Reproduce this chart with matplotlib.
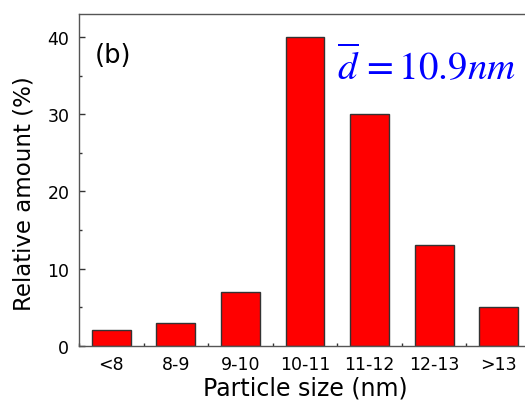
import matplotlib
matplotlib.use('Agg')
import matplotlib.pyplot as plt
import numpy as np
from matplotlib.ticker import MultipleLocator

# Particle size distribution (b)
sizes = ['<8', '8-9', '9-10', '10-11', '11-12', '12-13', '>13']
amount = [2, 3, 7, 40, 30, 13, 5]

plt.rcParams['font.family'] = ['DejaVu Sans']
plt.rcParams['mathtext.fontset'] = 'stix'

fig = plt.figure(figsize=(5.25, 4.06), dpi=100)
ax = fig.add_axes([79 / 525, 59.3 / 406, 452 / 525, 331.7 / 406])

x = np.arange(len(sizes))
ax.bar(x, amount, width=0.6, color='#ff0000', edgecolor='#333333', linewidth=1.0, zorder=2)

ax.set_xlim(-0.5, 6.5)
ax.set_ylim(0, 43)
ax.set_xticks(x)
ax.set_xticklabels(sizes)
ax.xaxis.set_minor_locator(MultipleLocator(1, offset=0.5))
ax.yaxis.set_major_locator(MultipleLocator(10))
ax.yaxis.set_minor_locator(MultipleLocator(5))
ax.tick_params(which='both', direction='in', labelsize=12.5, color='#333333', top=False, right=False)
ax.tick_params(which='major', length=4.5, width=1.0)
ax.tick_params(axis='x', which='major', pad=6.5)
ax.tick_params(axis='y', which='major', pad=7)
ax.tick_params(which='minor', length=2.5, width=1.0)
for s in ax.spines.values():
    s.set_color('#555555')
    s.set_linewidth(1.0)

ax.set_xlabel('Particle size (nm)', fontsize=17, labelpad=2)
ax.set_ylabel('Relative amount (%)', fontsize=16.5)
ax.yaxis.set_label_coords(-0.097, 0.46)

ax.text(0.035, 0.855, '(b)', transform=ax.transAxes, fontsize=18.5)
ax.text(0.57, 0.805, r'$\overline{d}\,=10.9nm$', transform=ax.transAxes,
        fontsize=28, color='blue')

plt.savefig('out.png', dpi=100)
